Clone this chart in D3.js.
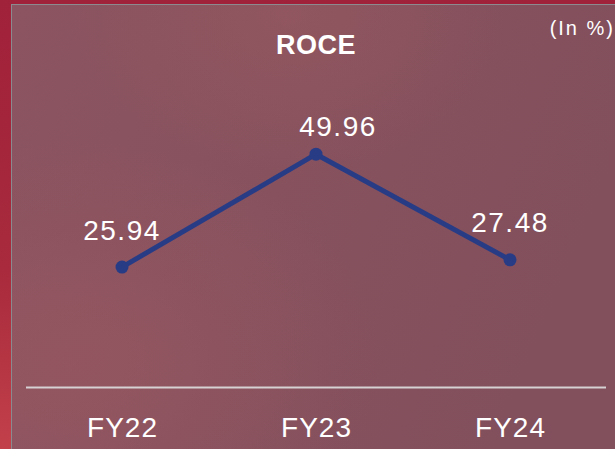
<!DOCTYPE html>
<html>
<head>
<meta charset="utf-8">
<script src="https://cdn.jsdelivr.net/npm/d3@7"></script>
<style>
  html, body { margin: 0; padding: 0; background: #9e2436; }
  svg { display: block; }
</style>
</head>
<body>
<svg width="615" height="449"></svg>
<script>
const years = ['FY22', 'FY23', 'FY24']
const roce = [25.94, 49.96, 27.48]
// label nudges so text sits clear of the line
const labelDx = [0, 22, 0]
const labelDy = [-27, -18, -28]

const svg = d3.select('svg')
const width = +svg.attr('width')
const height = +svg.attr('height')

const defs = svg.append('defs')

const outer = defs.append('linearGradient')
                  .attr('id', 'outer')
                  .attr('x1', 0).attr('y1', 0).attr('x2', 0).attr('y2', 1)
outer.append('stop').attr('offset', '0%').attr('stop-color', '#a0213a')
outer.append('stop').attr('offset', '60%').attr('stop-color', '#a82a3c')
outer.append('stop').attr('offset', '100%').attr('stop-color', '#c2404a')

const panel = defs.append('linearGradient')
                  .attr('id', 'panel')
                  .attr('x1', 0).attr('y1', 0).attr('x2', 1).attr('y2', 0.3)
panel.append('stop').attr('offset', '0%').attr('stop-color', '#8b5460')
panel.append('stop').attr('offset', '50%').attr('stop-color', '#87525e')
panel.append('stop').attr('offset', '100%').attr('stop-color', '#824f5c')

const glow = defs.append('radialGradient')
                 .attr('id', 'glow')
                 .attr('cx', 0.1).attr('cy', 0.8).attr('r', 0.5)
glow.append('stop').attr('offset', '0%').attr('stop-color', '#a05a62').attr('stop-opacity', 0.45)
glow.append('stop').attr('offset', '100%').attr('stop-color', '#a05a62').attr('stop-opacity', 0)

const glow2 = defs.append('radialGradient')
                  .attr('id', 'glow2')
                  .attr('cx', 0.45).attr('cy', 0.02).attr('r', 0.35)
glow2.append('stop').attr('offset', '0%').attr('stop-color', '#9a5a60').attr('stop-opacity', 0.5)
glow2.append('stop').attr('offset', '100%').attr('stop-color', '#9a5a60').attr('stop-opacity', 0)

svg.append('rect').attr('width', width).attr('height', height).attr('fill', 'url(#outer)')
svg.append('rect')
   .attr('x', 11.5).attr('y', 4.5)
   .attr('width', width).attr('height', height)
   .attr('fill', 'url(#panel)')
   .attr('stroke', '#8a8a8f').attr('stroke-width', 1)
svg.append('rect').attr('x', 12).attr('y', 5).attr('width', width).attr('height', height).attr('fill', 'url(#glow)')
svg.append('rect').attr('x', 12).attr('y', 5).attr('width', width).attr('height', height).attr('fill', 'url(#glow2)')

const x = d3.scalePoint()
            .domain(years)
            .range([122, 510])

const y = d3.scaleLinear()
            .domain([0, 60])
            .range([389, 107])

const font = '"Liberation Sans", Arial, sans-serif'

// baseline rule
svg.append('line')
   .attr('x1', 26).attr('x2', 606)
   .attr('y1', 387.5).attr('y2', 387.5)
   .attr('stroke', '#d6d2d4')
   .attr('stroke-width', 2)

// category labels via axis
const xAxis = svg.append('g')
                 .attr('transform', 'translate(0,400)')
                 .call(d3.axisBottom(x).tickSize(0).tickPadding(0))
xAxis.select('.domain').remove()
xAxis.selectAll('text')
     .attr('dy', '37')
     .attr('fill', '#ffffff')
     .style('font-family', font)
     .style('font-size', '28px')
     .style('letter-spacing', '1px')

const data = years.map((yr, i) => ({ yr, v: roce[i], i }))

const line = d3.line()
               .x(d => x(d.yr))
               .y(d => y(d.v))

svg.append('path')
   .datum(data)
   .attr('d', line)
   .attr('fill', 'none')
   .attr('stroke', '#283c86')
   .attr('stroke-width', 5)
   .attr('stroke-linejoin', 'round')

svg.selectAll('circle.pt')
   .data(data)
   .enter().append('circle')
   .attr('class', 'pt')
   .attr('cx', d => x(d.yr))
   .attr('cy', d => y(d.v))
   .attr('r', 6.5)
   .attr('fill', '#283c86')

svg.selectAll('text.val')
   .data(data)
   .enter().append('text')
   .attr('class', 'val')
   .attr('x', d => x(d.yr) + labelDx[d.i])
   .attr('y', d => y(d.v) + labelDy[d.i])
   .attr('text-anchor', 'middle')
   .attr('fill', '#ffffff')
   .style('font-family', font)
   .style('font-size', '28px')
   .style('letter-spacing', '1.5px')
   .text(d => d.v.toFixed(2))

svg.append('text')
   .attr('x', 316).attr('y', 54)
   .attr('text-anchor', 'middle')
   .attr('fill', '#ffffff')
   .style('font-family', font)
   .style('font-weight', 'bold')
   .style('font-size', '27px')
   .style('letter-spacing', '0.5px')
   .text('ROCE')

svg.append('text')
   .attr('x', 615).attr('y', 35)
   .attr('text-anchor', 'end')
   .attr('fill', '#ffffff')
   .style('font-family', font)
   .style('font-size', '20px')
   .style('letter-spacing', '2px')
   .text('(In %)')
</script>
</body>
</html>
